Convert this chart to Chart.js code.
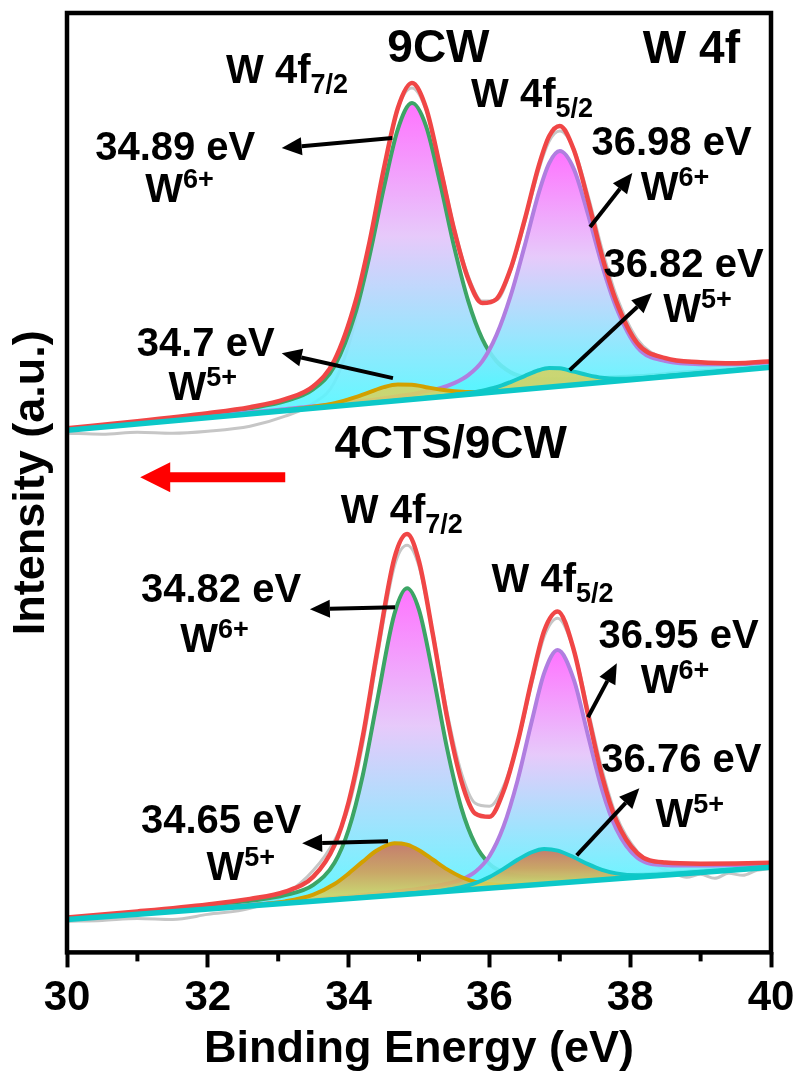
<!DOCTYPE html>
<html>
<head>
<meta charset="utf-8">
<script src="https://cdn.jsdelivr.net/npm/chart.js@4.4.1/dist/chart.umd.min.js"></script>
<style>
  html, body { margin: 0; padding: 0; background: #fff; }
  canvas { display: block; }
</style>
</head>
<body>
<canvas id="xps" width="801" height="1074"></canvas>
<script>
// binding energy grids (eV)
const topX = [30, 31, 32, 32.6, 33.1, 33.5, 33.8, 34.1, 34.3, 34.5, 34.7, 34.9, 35.1, 35.3, 35.5, 35.7, 35.9, 36.1, 36.3, 36.5, 36.7, 36.85, 37.0, 37.2, 37.4, 37.6, 37.8, 38.1, 38.5, 39, 39.5, 40];
const botX = [30, 31, 32, 32.6, 33.1, 33.5, 33.8, 34.0, 34.2, 34.4, 34.65, 34.83, 35.0, 35.2, 35.4, 35.6, 35.8, 36.0, 36.2, 36.4, 36.6, 36.78, 36.97, 37.2, 37.4, 37.6, 37.8, 38.1, 38.5, 39, 39.5, 40];
const rawTopX = [30, 30.5, 31, 31.5, 32, 32.6, 33.1, 33.5, 33.8, 34.1, 34.3, 34.5, 34.7, 34.9, 35.1, 35.3, 35.5, 35.7, 35.9, 36.1, 36.3, 36.5, 36.7, 36.85, 37.0, 37.2, 37.4, 37.6, 37.8, 38.1, 38.5, 38.8, 39.1, 39.4, 39.7, 40];
const rawBotX = [30, 30.5, 31, 31.5, 32, 32.6, 33.1, 33.5, 33.8, 34.0, 34.2, 34.4, 34.65, 34.83, 35.0, 35.2, 35.4, 35.6, 35.8, 36.0, 36.2, 36.4, 36.6, 36.78, 36.97, 37.2, 37.4, 37.6, 37.8, 38.1, 38.4, 38.6, 38.8, 39.0, 39.2, 39.4, 39.6, 39.8, 40];
const bgX = [30, 40];

// 9CW (upper spectrum), intensity a.u.
const rawTop = [519, 518, 520, 519, 521, 526, 536, 549, 570, 632, 702, 778, 843, 864, 842, 787, 724, 676, 651, 652, 681, 729, 782, 811, 821, 803, 757, 703, 657, 613, 593, 589, 586, 588, 587, 589];
const envTop = [524, 531, 539, 545, 553, 566, 592, 651, 711, 783, 844, 869, 844, 785, 722, 673, 649, 653, 683, 732, 786, 816, 826, 802, 752, 696, 651, 609, 594, 590, 589, 591];
const w6a_Top = [523, 530, 538, 544, 551, 563, 586, 640, 697, 764, 823, 849, 826, 769, 705, 651, 613, 591, 580, 575, 573, 573, 573, 573, 573, 574, 575, 576, 578, 581, 583, 586];
const w6b_Top = [523, 529, 536, 540, 543, 546, 548, 551, 552, 554, 556, 558, 561, 564, 569, 577, 591, 617, 656, 706, 759, 789, 801, 783, 738, 687, 645, 605, 591, 588, 588, 590];
const w5a_Top = [522, 528.3, 534.6, 538.6, 542, 545.4, 548.9, 555, 560, 565, 567.6, 567.5, 565, 562.6, 560.9, 560.1, 560.5, 561.2, 562.2, 563.4, 564.5, 565.4, 566.3, 567.6, 568.8, 570.1, 571.3, 573.2, 575.8, 578.9, 582.1, 585.2];
const w5b_Top = [522.1, 528.4, 534.7, 538.5, 541.6, 544.2, 546, 547.9, 549.2, 550.5, 551.8, 553.1, 554.4, 555.8, 557.5, 559.1, 561.5, 564.9, 570.1, 576.1, 581.9, 584.2, 583.8, 580.5, 577, 574.4, 573.4, 574, 576.1, 578.9, 582.1, 585.1];
const bgTop = [522, 585];

// 4CTS/9CW (lower spectrum)
const rawBot = [31, 32, 34, 33, 38, 44, 58, 82, 112, 145, 208, 292, 386, 407, 386, 318, 240, 180, 149, 146, 166, 209, 268, 316, 334, 302, 243, 183, 137, 101, 86, 80, 75, 78, 74, 79, 77, 82, 84];
const envBot = [34.9, 41, 48, 53.5, 60.7, 75.8, 107.3, 150.1, 215.3, 298.4, 394, 418.3, 390.9, 316.6, 234.4, 171.8, 138.7, 135.5, 161.1, 209.7, 272, 321.7, 340.7, 302, 238, 176.4, 132.3, 99.3, 89.8, 88.7, 88.9, 89.7];
const w6a_Bot = [34.1, 40, 46.6, 51.6, 57.3, 67.5, 89.6, 122.6, 176.6, 249.3, 338.1, 364.1, 342.4, 277.3, 203.4, 144.7, 107.9, 88.5, 80, 76.6, 75.1, 74.8, 74.7, 74.9, 75.4, 75.9, 76.5, 77.5, 79.1, 81.3, 83.6, 86];
const w6b_Bot = [33.4, 38.8, 44.2, 47.5, 50.4, 52.8, 54.7, 56, 57.3, 58.8, 60.7, 62.1, 63.7, 65.8, 68.6, 72.8, 80.6, 96.1, 125.8, 171.9, 230.6, 279.6, 302.2, 272.4, 217.1, 162.7, 123.7, 94.7, 87.2, 86.8, 87.4, 88.5];
const w5a_Bot = [33.2, 38.4, 43.8, 47.2, 51, 57.7, 68.3, 78.8, 90.7, 101.8, 109.2, 107.8, 102.2, 92.6, 83, 75.4, 70.5, 68.1, 67.4, 67.5, 68.1, 68.9, 69.7, 70.8, 71.8, 72.8, 73.9, 75.3, 77.4, 80, 82.5, 85.1];
const w5b_Bot = [33.2, 38.4, 43.6, 46.7, 49.3, 51.4, 53.1, 54.1, 55.1, 56.2, 57.6, 58.6, 59.6, 60.9, 62.7, 65.2, 69.3, 75.4, 83.5, 92.6, 100.1, 103.3, 101.7, 95.1, 88.2, 82.5, 79, 77.1, 77.9, 80.2, 82.7, 85.2];
const bgBot = [33, 85];

const xTicks = [30, 32, 34, 36, 38, 40];
const minorTicks = [31, 33, 35, 37, 39];

const FONT = '"Liberation Sans", Arial, sans-serif';
Chart.defaults.font.family = FONT;
Chart.defaults.color = '#000';

function pts(xs, ys) {
    return xs.map((x, i) => ({ x: x, y: ys[i] }));
}

// vertical gradient from the peak top down to the background line under it
function peakFill(stops, bgY) {
    return function (c) {
        const chart = c.chart;
        if (!chart.chartArea) return 'rgba(0,0,0,0)';
        const d = c.dataset.data;
        let top = d[0];
        d.forEach(p => { if (p.y > top.y) top = p; });
        const base = bgY[0] + (bgY[1] - bgY[0]) * (top.x - bgX[0]) / (bgX[1] - bgX[0]);
        const ys = chart.scales.y;
        const g = chart.ctx.createLinearGradient(0, ys.getPixelForValue(top.y), 0, ys.getPixelForValue(base));
        stops.forEach(s => g.addColorStop(s[0], s[1]));
        return g;
    };
}

const w6Stops = [[0, 'rgba(255,100,255,0.9)'], [0.45, 'rgba(228,196,250,0.9)'], [1, 'rgba(90,245,255,0.9)']];
const w5Stops = [[0, 'rgba(204,110,90,0.88)'], [0.55, 'rgba(212,156,82,0.88)'], [1, 'rgba(214,210,96,0.88)']];

function curve(label, xs, ys, color, order, extra) {
    return Object.assign({
        label: label,
        data: pts(xs, ys),
        borderColor: color,
        borderWidth: 4,
        pointRadius: 0,
        fill: false,
        cubicInterpolationMode: 'monotone',
        order: order
    }, extra || {});
}

const datasets = [
    curve('Raw 9CW', rawTopX, rawTop, '#c6c6c6', 6, { borderWidth: 3 }),
    curve('Raw 4CTS/9CW', rawBotX, rawBot, '#c6c6c6', 6, { borderWidth: 3 }),
    curve('W6+ 4f7/2', topX, w6a_Top, '#3ca566', 5, { fill: 12, backgroundColor: peakFill(w6Stops, bgTop) }),
    curve('W6+ 4f7/2', botX, w6a_Bot, '#3ca566', 5, { fill: 13, backgroundColor: peakFill(w6Stops, bgBot) }),
    curve('W6+ 4f5/2', topX, w6b_Top, '#b07ee0', 4, { fill: 12, backgroundColor: peakFill(w6Stops, bgTop) }),
    curve('W6+ 4f5/2', botX, w6b_Bot, '#b07ee0', 4, { fill: 13, backgroundColor: peakFill(w6Stops, bgBot) }),
    curve('W5+ 4f7/2', topX, w5a_Top, '#d2a000', 3, { fill: 12, backgroundColor: peakFill(w5Stops, bgTop) }),
    curve('W5+ 4f7/2', botX, w5a_Bot, '#d2a000', 3, { fill: 13, backgroundColor: peakFill(w5Stops, bgBot) }),
    curve('W5+ 4f5/2', topX, w5b_Top, '#14c8c8', 2, { fill: 12, backgroundColor: peakFill(w5Stops, bgTop) }),
    curve('W5+ 4f5/2', botX, w5b_Bot, '#14c8c8', 2, { fill: 13, backgroundColor: peakFill(w5Stops, bgBot) }),
    curve('Envelope', topX, envTop, '#f04646', 1, { borderWidth: 4.5 }),
    curve('Envelope', botX, envBot, '#f04646', 1, { borderWidth: 4.5 }),
    curve('Background', bgX, bgTop, '#0cc8c8', 0, { borderWidth: 5.5, cubicInterpolationMode: 'default', tension: 0 }),
    curve('Background', bgX, bgBot, '#0cc8c8', 0, { borderWidth: 5.5, cubicInterpolationMode: 'default', tension: 0 })
];

// text annotations, anchored in axis units; parts = [text, size, baseline shift]
const notes = [
    { x: 32.26, y: 869, parts: [['W 4f', 40], ['7/2', 27, 10]] },
    { x: 34.55, y: 890, parts: [['9CW', 46]] },
    { x: 38.18, y: 889, parts: [['W 4f', 46]] },
    { x: 35.74, y: 845, parts: [['W 4f', 40], ['5/2', 27, 10]] },
    { x: 30.40, y: 792, parts: [['34.89 eV', 40]] },
    { x: 31.11, y: 750, parts: [['W', 40], ['6+', 27, -14]] },
    { x: 37.45, y: 797, parts: [['36.98 eV', 40]] },
    { x: 38.15, y: 752, parts: [['W', 40], ['6+', 27, -14]] },
    { x: 37.62, y: 675, parts: [['36.82 eV', 40]] },
    { x: 38.47, y: 630, parts: [['W', 40], ['5+', 27, -14]] },
    { x: 30.99, y: 596, parts: [['34.7 eV', 40]] },
    { x: 31.44, y: 552, parts: [['W', 40], ['5+', 27, -14]] },
    { x: 35.45, y: 494, center: true, parts: [['4CTS/9CW', 46]] },
    { x: 33.89, y: 429, parts: [['W 4f', 40], ['7/2', 27, 10]] },
    { x: 36.03, y: 360, parts: [['W 4f', 40], ['5/2', 27, 10]] },
    { x: 31.05, y: 350, parts: [['34.82 eV', 40]] },
    { x: 31.61, y: 300, parts: [['W', 40], ['6+', 27, -14]] },
    { x: 37.55, y: 304, parts: [['36.95 eV', 40]] },
    { x: 38.15, y: 259, parts: [['W', 40], ['6+', 27, -14]] },
    { x: 37.59, y: 180, parts: [['36.76 eV', 40]] },
    { x: 38.36, y: 125, parts: [['W', 40], ['5+', 27, -14]] },
    { x: 31.05, y: 119, parts: [['34.65 eV', 40]] },
    { x: 31.98, y: 72, parts: [['W', 40], ['5+', 27, -14]] }
];

// black pointer arrows: from (x1,y1) to tip (x2,y2)
const pointers = [
    [34.62, 814, 33.05, 804],
    [37.43, 725, 38.03, 779],
    [37.14, 582, 38.31, 659],
    [34.63, 574, 33.05, 599],
    [34.66, 345, 33.45, 343],
    [37.40, 235, 37.81, 289],
    [37.24, 97, 38.13, 164],
    [34.56, 111, 33.34, 109]
];
const shiftArrow = { from: 33.10, to: 31.04, y: 475 };

function drawArrow(ctx, x1, y1, x2, y2) {
    const ang = Math.atan2(y2 - y1, x2 - x1);
    const hl = 20, hw = 9;
    const bx = x2 - hl * Math.cos(ang), by = y2 - hl * Math.sin(ang);
    ctx.strokeStyle = '#000';
    ctx.fillStyle = '#000';
    ctx.lineWidth = 4;
    ctx.beginPath();
    ctx.moveTo(x1, y1);
    ctx.lineTo(bx, by);
    ctx.stroke();
    ctx.beginPath();
    ctx.moveTo(x2, y2);
    ctx.lineTo(bx + hw * Math.sin(ang), by - hw * Math.cos(ang));
    ctx.lineTo(bx - hw * Math.sin(ang), by + hw * Math.cos(ang));
    ctx.closePath();
    ctx.fill();
}

const overlay = {
    id: 'overlay',
    afterDraw(chart) {
        const ctx = chart.ctx;
        const a = chart.chartArea;
        const xs = chart.scales.x, ys = chart.scales.y;
        ctx.save();

        // minor ticks under the axis
        ctx.strokeStyle = '#000';
        ctx.lineWidth = 4;
        minorTicks.forEach(t => {
            const px = xs.getPixelForValue(t);
            ctx.beginPath();
            ctx.moveTo(px, a.bottom);
            ctx.lineTo(px, a.bottom + 9);
            ctx.stroke();
        });

        // frame
        ctx.lineWidth = 4.5;
        ctx.strokeRect(a.left, a.top, a.right - a.left, a.bottom - a.top);

        // labels
        ctx.fillStyle = '#000';
        ctx.textBaseline = 'alphabetic';
        ctx.textAlign = 'left';
        notes.forEach(n => {
            let total = 0;
            n.parts.forEach(p => {
                ctx.font = 'bold ' + p[1] + 'px ' + FONT;
                total += ctx.measureText(p[0]).width;
            });
            let cx = xs.getPixelForValue(n.x) - (n.center ? total / 2 : 0);
            const cy = ys.getPixelForValue(n.y);
            n.parts.forEach(p => {
                ctx.font = 'bold ' + p[1] + 'px ' + FONT;
                ctx.fillText(p[0], cx, cy + (p[2] || 0));
                cx += ctx.measureText(p[0]).width;
            });
        });

        pointers.forEach(p => {
            drawArrow(ctx, xs.getPixelForValue(p[0]), ys.getPixelForValue(p[1]),
                xs.getPixelForValue(p[2]), ys.getPixelForValue(p[3]));
        });

        // red shift arrow
        const tx = xs.getPixelForValue(shiftArrow.to);
        const fx = xs.getPixelForValue(shiftArrow.from);
        const ay = ys.getPixelForValue(shiftArrow.y);
        ctx.fillStyle = '#ff0000';
        ctx.beginPath();
        ctx.moveTo(tx, ay);
        ctx.lineTo(tx + 30, ay - 15);
        ctx.lineTo(tx + 30, ay - 5);
        ctx.lineTo(fx, ay - 5);
        ctx.lineTo(fx, ay + 5);
        ctx.lineTo(tx + 30, ay + 5);
        ctx.lineTo(tx + 30, ay + 15);
        ctx.closePath();
        ctx.fill();

        ctx.restore();
    }
};

new Chart(document.getElementById('xps'), {
    type: 'line',
    data: { datasets: datasets },
    options: {
        responsive: false,
        animation: false,
        devicePixelRatio: 1,
        layout: { padding: { top: 13, right: 30, bottom: 0, left: 0 } },
        plugins: { legend: { display: false }, tooltip: { enabled: false } },
        scales: {
            x: {
                type: 'linear',
                min: 30,
                max: 40,
                afterBuildTicks: axis => { axis.ticks = xTicks.map(v => ({ value: v })); },
                // the edge labels fit inside the layout padding, so no extra room is needed
                afterFit: axis => { axis.paddingLeft = 0; axis.paddingRight = 0; },
                ticks: {
                    color: '#000',
                    padding: 10,
                    maxRotation: 0,
                    autoSkip: false,
                    font: { size: 42, weight: 'bold', lineHeight: 1 }
                },
                grid: { drawOnChartArea: false, drawTicks: true, tickLength: 15, tickWidth: 4, tickColor: '#000' },
                border: { display: false },
                title: {
                    display: true,
                    text: 'Binding Energy (eV)',
                    color: '#000',
                    font: { size: 45, weight: 'bold', lineHeight: 0.88 },
                    padding: { top: 0, bottom: 5 }
                }
            },
            y: {
                min: 0,
                max: 939,
                ticks: { display: false },
                grid: { display: false, drawTicks: false },
                border: { display: false },
                title: {
                    display: true,
                    text: 'Intensity (a.u.)',
                    color: '#000',
                    font: { size: 45, weight: 'bold', lineHeight: 1 },
                    padding: { top: 9, bottom: 13 }
                }
            }
        }
    },
    plugins: [overlay]
});
</script>
</body>
</html>
